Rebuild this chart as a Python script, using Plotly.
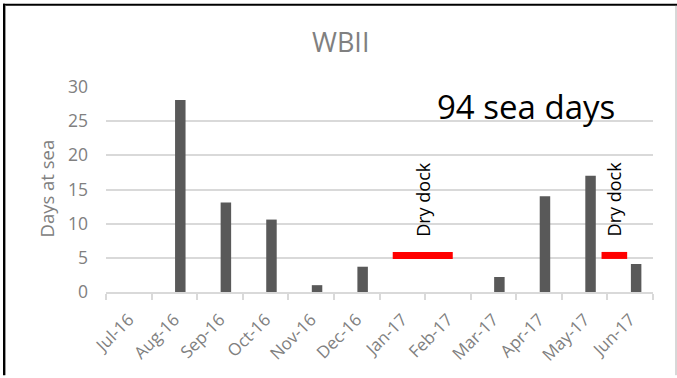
import calendar
from datetime import date

import plotly.graph_objects as go

# ---- data -------------------------------------------------------------
months = ["Jul-16", "Aug-16", "Sep-16", "Oct-16", "Nov-16", "Dec-16",
          "Jan-17", "Feb-17", "Mar-17", "Apr-17", "May-17", "Jun-17"]
days_at_sea = [0, 28.1, 13.1, 10.6, 1.0, 3.7, 0, 0, 2.2, 14.0, 17.0, 4.1]

dry_dock_start = [date(2017, 1, 10), date(2017, 5, 28)]
dry_dock_end = [date(2017, 2, 18), date(2017, 6, 14)]
dry_dock_label = "Dry dock"
dry_dock_level = 5.35

chart_title = "WBII"
total_label = "94 sea days"
y_title = "Days at sea"
y_ticks = [0, 5, 10, 15, 20, 25, 30]

# ---- layout geometry --------------------------------------------------
W, H = 677, 378
M_L, M_R, M_T, M_B = 106, 24, 87, 84
PLOT_W = W - M_L - M_R
PLOT_H = H - M_T - M_B

GREY_TEXT = "#808080"
GRID = "#d9d9d9"
BAR = "#595959"
FONT = "Open Sans"


def px_x(px):
    """Pixel column -> paper x."""
    return (px - M_L) / PLOT_W


def px_y(py):
    """Pixel row -> paper y."""
    return (H - M_B - py) / PLOT_H


def month_pos(d):
    """Date -> position on the month category axis (category centre = index)."""
    idx = (d.year - 2016) * 12 + d.month - 7
    frac = (d.day - 1) / calendar.monthrange(d.year, d.month)[1]
    return idx + frac - 0.5


fig = go.Figure()

fig.add_trace(go.Bar(
    x=months,
    y=days_at_sea,
    width=0.23,
    offset=0.015,
    marker=dict(color=BAR, line=dict(width=0)),
    hoverinfo="x+y",
))

shapes = []
annotations = []

# dry dock periods: red bar plus vertical label
for start, end in zip(dry_dock_start, dry_dock_end):
    x0, x1 = month_pos(start), month_pos(end)
    shapes.append(dict(type="line", xref="x", yref="y",
                       x0=x0, x1=x1, y0=dry_dock_level, y1=dry_dock_level,
                       line=dict(color="#ff0000", width=7)))
    annotations.append(dict(xref="x", yref="y", x=(x0 + x1) / 2, y=13.6,
                            text=dry_dock_label, textangle=-90, showarrow=False,
                            font=dict(family=FONT, size=18, color="#000000"),
                            xanchor="center", yanchor="middle"))

annotations.append(dict(xref="x", yref="y", x=8.72, y=27.1,
                        text=total_label, showarrow=False,
                        font=dict(family=FONT, size=33, color="#000000"),
                        xanchor="center", yanchor="middle"))

annotations.append(dict(xref="paper", yref="paper", x=px_x(340.5), y=px_y(41.5),
                        text=chart_title, showarrow=False,
                        font=dict(family=FONT, size=27, color=GREY_TEXT),
                        xanchor="center", yanchor="middle"))

annotations.append(dict(xref="paper", yref="paper", x=px_x(47), y=px_y(189.5),
                        text=y_title, textangle=-90, showarrow=False,
                        font=dict(family=FONT, size=18.5, color=GREY_TEXT),
                        xanchor="center", yanchor="middle"))

# frame around the chart
shapes.append(dict(type="line", xref="paper", yref="paper",
                   x0=px_x(3), x1=px_x(W), y0=px_y(4), y1=px_y(4),
                   line=dict(color="#000000", width=2)))
shapes.append(dict(type="line", xref="paper", yref="paper",
                   x0=px_x(4), x1=px_x(4), y0=px_y(3), y1=px_y(H),
                   line=dict(color="#000000", width=2)))
shapes.append(dict(type="line", xref="paper", yref="paper",
                   x0=px_x(5.5), x1=px_x(5.5), y0=px_y(5), y1=px_y(H),
                   line=dict(color="#9a9a9a", width=1)))
shapes.append(dict(type="line", xref="paper", yref="paper",
                   x0=px_x(676), x1=px_x(676), y0=px_y(5), y1=px_y(H),
                   line=dict(color="#b0b0b0", width=1)))

fig.update_layout(
    width=W, height=H,
    margin=dict(l=M_L, r=M_R, t=M_T, b=M_B, pad=0),
    paper_bgcolor="#ffffff",
    plot_bgcolor="#ffffff",
    showlegend=False,
    shapes=shapes,
    annotations=annotations,
    font=dict(family=FONT, color=GREY_TEXT),
)

fig.update_xaxes(
    type="category",
    categoryorder="array", categoryarray=months,
    range=[-0.5, 11.5],
    tickson="boundaries",
    ticks="outside", ticklen=6, tickwidth=2, tickcolor=GRID,
    showline=True, linecolor=GRID, linewidth=2,
    showgrid=False, zeroline=False,
    tickangle=-45,
    tickfont=dict(family=FONT, size=17, color=GREY_TEXT),
    ticklabelstandoff=9,
)

fig.update_yaxes(
    range=[0, 30],
    tickvals=y_ticks,
    showgrid=True, gridcolor=GRID, gridwidth=2,
    zeroline=False, showline=False,
    ticks="",
    tickfont=dict(family=FONT, size=17.5, color=GREY_TEXT),
    ticklabelstandoff=17,
)

fig.write_html("out.html")
